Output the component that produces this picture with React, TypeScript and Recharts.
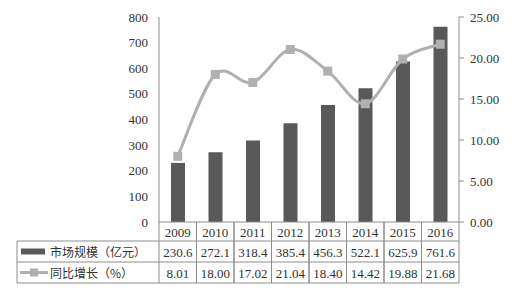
import React from 'react';
import { ComposedChart, Bar, Line, XAxis, YAxis } from 'recharts';

const years = ['2009', '2010', '2011', '2012', '2013', '2014', '2015', '2016'];
const marketSize = [230.6, 272.1, 318.4, 385.4, 456.3, 522.1, 625.9, 761.6];
const growthRate = [8.01, 18.0, 17.02, 21.04, 18.4, 14.42, 19.88, 21.68];
const leftTicks = [0, 100, 200, 300, 400, 500, 600, 700, 800];
const rightTicks = [0, 5, 10, 15, 20, 25];
const sizeName = '市场规模（亿元）';
const growthName = '同比增长（%）';

const data = years.map((y, i) => ({ year: y, size: marketSize[i], growth: growthRate[i] }));

const BAR_COLOR = '#595959';
const LINE_COLOR = '#b0b0b0';
const BORDER = '#8c8c8c';
const TEXT = '#333333';
const NUM_FONT = '"Liberation Serif", "DejaVu Serif", serif';
const CJK_FONT = '"Noto Sans CJK SC", sans-serif';

const PLOT_LEFT = 159;
const PLOT_RIGHT = 459;
const BAND = (PLOT_RIGHT - PLOT_LEFT) / years.length;
const TABLE_LEFT = 17;

const excelSmooth = (context: any) => {
  let pts: number[][] = [];
  return {
    areaStart() {},
    areaEnd() {},
    lineStart() {
      pts = [];
    },
    point(x: number, y: number) {
      pts.push([+x, +y]);
    },
    lineEnd() {
      if (!pts.length) return;
      context.moveTo(pts[0][0], pts[0][1]);
      const t = 1 / 6;
      for (let i = 0; i < pts.length - 1; i++) {
        const p0 = pts[i - 1] || pts[i];
        const p1 = pts[i];
        const p2 = pts[i + 1];
        const p3 = pts[i + 2] || p2;
        context.bezierCurveTo(
          p1[0] + (p2[0] - p0[0]) * t,
          p1[1] + (p2[1] - p0[1]) * t,
          p2[0] - (p3[0] - p1[0]) * t,
          p2[1] - (p3[1] - p1[1]) * t,
          p2[0],
          p2[1]
        );
      }
    },
  };
};

const SquareDot = (props: any) => {
  const { cx, cy, index } = props;
  if (cx == null || cy == null) return <g key={index} />;
  return <rect key={index} x={cx - 4.5} y={cy - 4.5} width={9} height={9} fill={LINE_COLOR} />;
};

const TableTick = (props: any) => {
  const { x, y, payload } = props;
  const i = payload.index;
  const half = BAND / 2;
  const r0 = y;
  const r1 = y + 19;
  const r2 = y + 40;
  const r3 = y + 61;
  const left = x - half;
  const right = x + half;
  return (
    <g>
      <line x1={left} y1={r0} x2={left} y2={r3} stroke={BORDER} />
      <line x1={right} y1={r0} x2={right} y2={r3} stroke={BORDER} />
      <line x1={left} y1={r1} x2={right} y2={r1} stroke={BORDER} />
      <line x1={left} y1={r2} x2={right} y2={r2} stroke={BORDER} />
      <line x1={left} y1={r3} x2={right} y2={r3} stroke={BORDER} />
      <text x={x} y={(r0 + r1) / 2 + 1} textAnchor="middle" dominantBaseline="central" fontFamily={NUM_FONT} fontSize={13} fill={TEXT}>
        {payload.value}
      </text>
      <text x={x} y={(r1 + r2) / 2 + 1} textAnchor="middle" dominantBaseline="central" fontFamily={NUM_FONT} fontSize={13} fill={TEXT}>
        {marketSize[i].toFixed(1)}
      </text>
      <text x={x} y={(r2 + r3) / 2 + 1} textAnchor="middle" dominantBaseline="central" fontFamily={NUM_FONT} fontSize={13} fill={TEXT}>
        {growthRate[i].toFixed(2)}
      </text>
      {i === 0 && (
        <g>
          <line x1={TABLE_LEFT} y1={r1} x2={left} y2={r1} stroke={BORDER} />
          <line x1={TABLE_LEFT} y1={r2} x2={left} y2={r2} stroke={BORDER} />
          <line x1={TABLE_LEFT} y1={r3} x2={left} y2={r3} stroke={BORDER} />
          <line x1={TABLE_LEFT} y1={r1} x2={TABLE_LEFT} y2={r3} stroke={BORDER} />
          <rect x={TABLE_LEFT + 4} y={(r1 + r2) / 2 - 3} width={24} height={6} fill={BAR_COLOR} />
          <text x={TABLE_LEFT + 33} y={(r1 + r2) / 2} dominantBaseline="central" fontFamily={CJK_FONT} fontSize={12} fill={TEXT}>
            {sizeName}
          </text>
          <line x1={TABLE_LEFT + 3} y1={(r2 + r3) / 2} x2={TABLE_LEFT + 31} y2={(r2 + r3) / 2} stroke={LINE_COLOR} strokeWidth={3} />
          <rect x={TABLE_LEFT + 13} y={(r2 + r3) / 2 - 4} width={8} height={8} fill={LINE_COLOR} />
          <text x={TABLE_LEFT + 33} y={(r2 + r3) / 2} dominantBaseline="central" fontFamily={CJK_FONT} fontSize={12} fill={TEXT}>
            {growthName}
          </text>
        </g>
      )}
    </g>
  );
};

export default function App() {
  return (
    <div style={{ position: 'absolute', left: 0, top: 0, width: 522, height: 300, background: '#fff' }}>
      <ComposedChart width={522} height={300} data={data} margin={{ top: 17, right: 0, bottom: 0, left: 0 }}>
        <XAxis
          dataKey="year"
          height={78}
          axisLine={{ stroke: BORDER }}
          tickLine={false}
          tickSize={0}
          tickMargin={0}
          interval={0}
          tick={<TableTick />}
        />
        <YAxis
          yAxisId="left"
          width={159}
          domain={[0, 800]}
          ticks={leftTicks}
          axisLine={{ stroke: BORDER }}
          tickLine={false}
          tickSize={6}
          tickMargin={5}
          tick={{ fontFamily: NUM_FONT, fontSize: 13, fill: TEXT }}
        />
        <YAxis
          yAxisId="right"
          orientation="right"
          width={63}
          domain={[0, 25]}
          ticks={rightTicks}
          axisLine={{ stroke: BORDER }}
          tickLine={{ stroke: BORDER }}
          tickSize={5}
          tickMargin={6}
          tickFormatter={(v: number) => v.toFixed(2)}
          tick={{ fontFamily: NUM_FONT, fontSize: 13, fill: TEXT }}
        />
        <Bar yAxisId="left" dataKey="size" name={sizeName} fill={BAR_COLOR} barSize={14} isAnimationActive={false} />
        <Line
          yAxisId="right"
          dataKey="growth"
          name={growthName}
          type={excelSmooth as any}
          stroke={LINE_COLOR}
          strokeWidth={3}
          dot={SquareDot}
          activeDot={false}
          isAnimationActive={false}
        />
      </ComposedChart>
    </div>
  );
}
